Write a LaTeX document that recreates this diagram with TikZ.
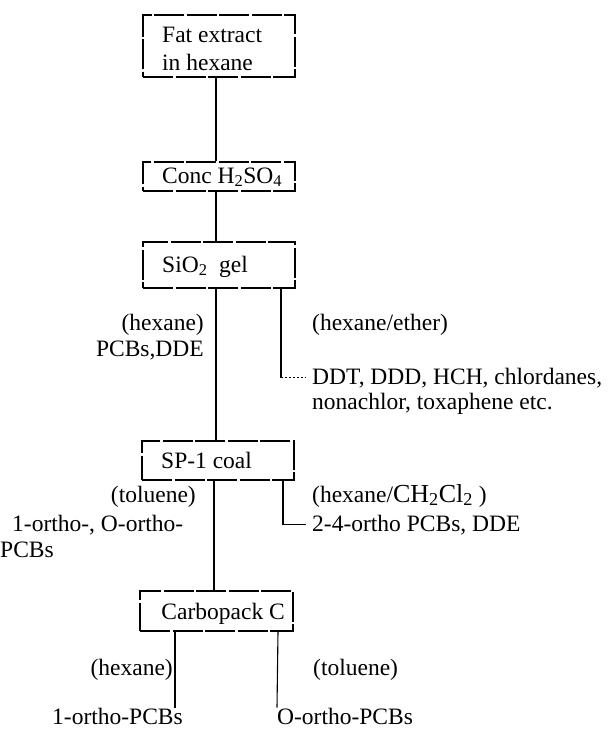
\documentclass[tikz,border=0pt]{standalone}
\usepackage{fontspec}
\setmainfont{Liberation Serif}
\begin{document}
\begin{tikzpicture}[x=1pt,y=-1pt,
  boxst/.style={draw, line width=1.1pt, dash pattern=on 30pt off 2.5pt, inner sep=0pt},
  conn/.style={line width=1.1pt},
  dotconn/.style={line width=1.1pt, dash pattern=on 2pt off 2pt},
  lbl/.style={inner sep=0pt, font=\fontsize{23.5}{28}\selectfont},
  lblw/.style={inner sep=6pt, font=\fontsize{23.5}{28}\selectfont}]
\useasboundingbox (0,0) rectangle (616,732);
% boxes
\node[boxst, minimum width=152pt, minimum height=62pt] (b1) at (219,46) {};
\node[boxst, minimum width=152pt, minimum height=29pt] (b2) at (219,176.5) {};
\node[boxst, minimum width=152pt, minimum height=46pt] (b3) at (219,265) {};
\node[boxst, minimum width=152pt, minimum height=39pt] (b4) at (218,460.5) {};
\node[boxst, minimum width=153pt, minimum height=40pt] (b5) at (216.5,611) {};
% box texts
\node[lbl, anchor=base west] (t1a) at (162,42) {Fat extract};
\node[lbl, anchor=base west] (t1b) at (162,70) {in hexane};
\node[lbl, anchor=base west] (t2) at (162,183) {Conc H\textsubscript{2}SO\textsubscript{4}};
\node[lbl, anchor=base west] (t3) at (162,272) {SiO\textsubscript{2}\ \ gel};
\node[lbl, anchor=base west] (t4) at (161,468) {SP-1 coal};
\node[lbl, anchor=base east] (t5) at (285,619) {Carbopack C};
% side labels
\node[lbl, anchor=base east] (l1) at (204,330) {(hexane)};
\node[lbl, anchor=base east] (l2) at (204,356) {PCBs,DDE};
\node[lbl, anchor=base west] (l3) at (312,330) {(hexane/ether)};
\node[lblw, anchor=base west] (ddt) at (306,384) {DDT, DDD, HCH, chlordanes,};
\node[lbl, anchor=base west] (nona) at (312,409) {nonachlor, toxaphene etc.};
\node[lbl, anchor=base east] (l4) at (196,502) {(toluene)};
\node[lbl, anchor=base west] (l5) at (312,502) {(hexane/{\fontsize{26}{28}\selectfont CH\textsubscript{2}Cl\textsubscript{2}} )};
\node[lbl, anchor=base west] (l6) at (12,531) {1-ortho-, O-ortho-};
\node[lbl, anchor=base west] (l7) at (0,557) {PCBs};
\node[lblw, anchor=base west] (l8) at (306,531) {2-4-ortho PCBs, DDE};
\node[lbl, anchor=base east] (l9) at (173,675) {(hexane)};
\node[lbl, anchor=base west] (l10) at (313,675) {(toluene)};
\node[lbl, anchor=base west] (o1) at (52,724) {1-ortho-PCBs};
\node[lbl, anchor=base west] (o2) at (277,724) {O-ortho-PCBs};
% connector x positions
\coordinate (cx) at (216,0);
\coordinate (cx2) at (214,0);
\coordinate (kx) at (281,0);
\coordinate (kx2) at (283,0);
\coordinate (lx) at (175,0);
\coordinate (rx) at (278,0);
% main line
\draw[conn] (b1.south -| cx) -- (b2.north -| cx);
\draw[conn] (b2.south -| cx) -- (b3.north -| cx);
\draw[conn] (b3.south -| cx) -- (b4.north -| cx);
\draw[conn] (b4.south -| cx2) -- (b5.north -| cx2);
% branches
\draw[conn] (b3.south -| kx) -- (kx |- ddt.west);
\draw[dotconn] (kx |- ddt.west) -- (ddt.west);
\draw[conn] (b4.south -| kx2) |- (l8.west);
\draw[conn] (b5.south -| lx) -- (lx |- o1.north);
\draw[conn] (b5.south -| rx) -- (o2.north west);
\end{tikzpicture}
\end{document}
